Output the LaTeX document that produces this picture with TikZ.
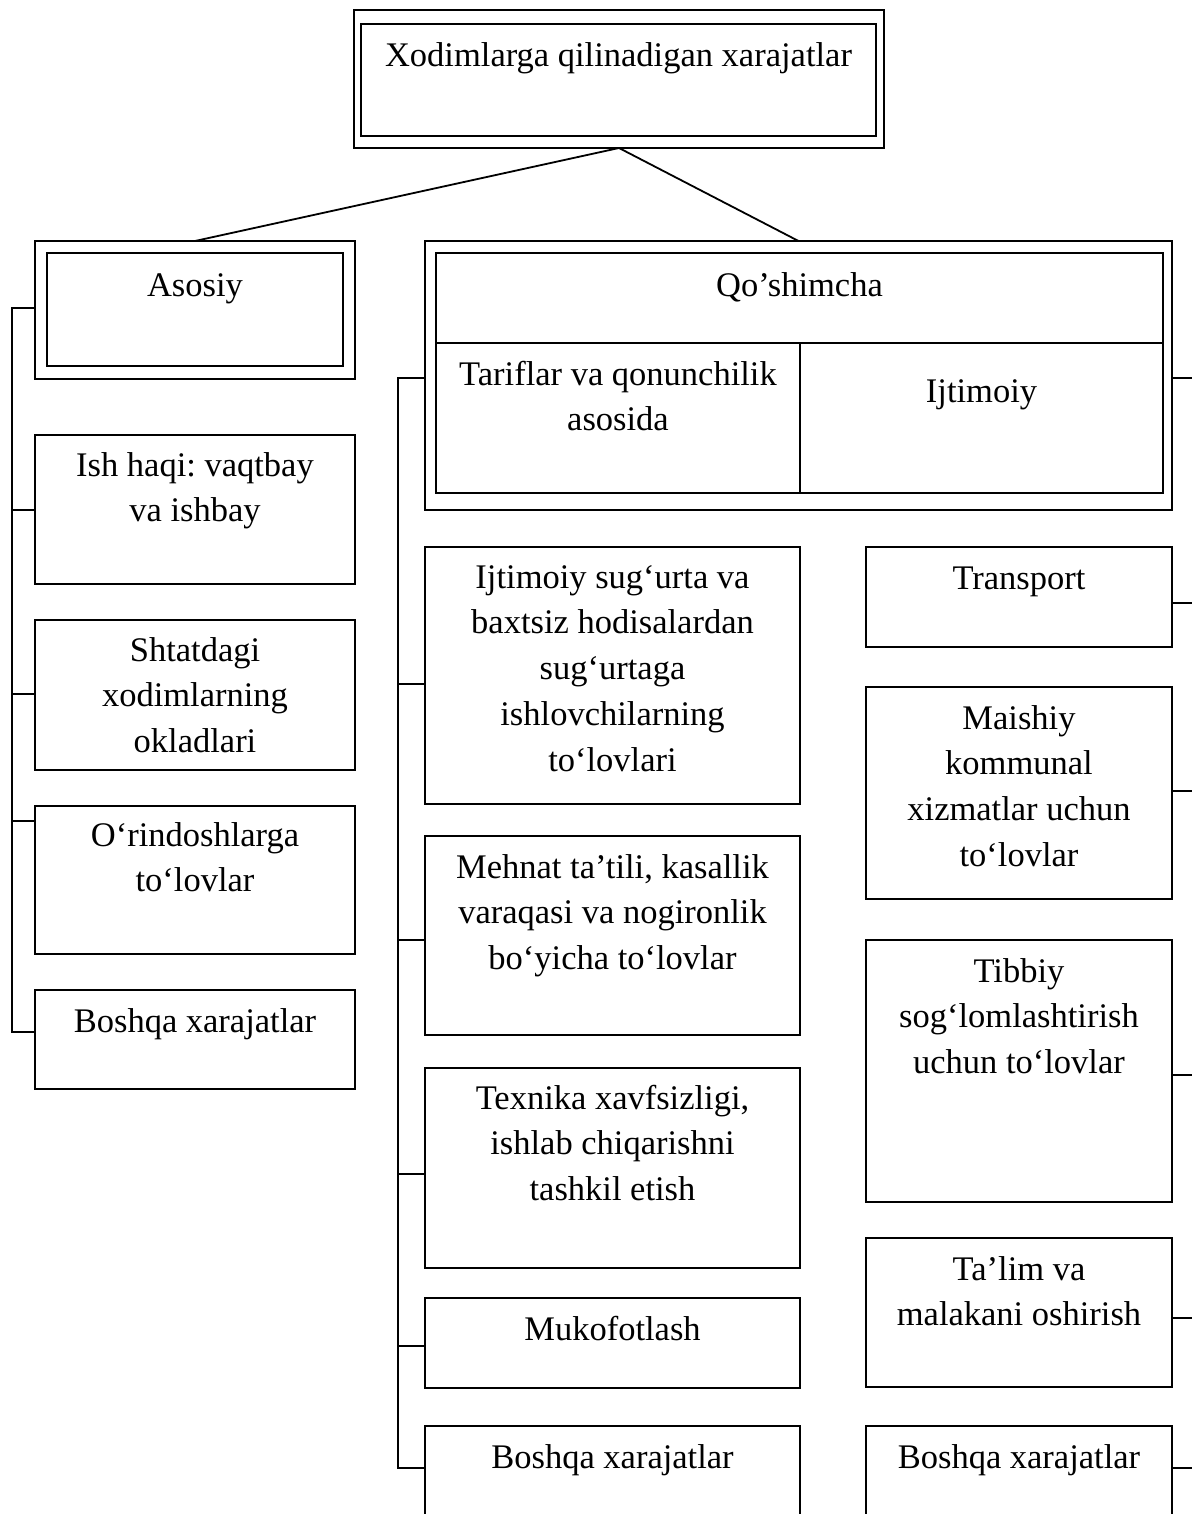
\documentclass[tikz,border=0pt]{standalone}
\usepackage{fontspec}
\setmainfont{Liberation Serif}
\frenchspacing
\newcommand\mainsize{\fontsize{17.25pt}{22.9pt}\selectfont}
% a box given by its corners (x1,y1)-(x2,y2) in drawing units, with the
% first text baseline placed #6 units below the top edge
\newcommand\cellbox[7]{%
  \node[cell, anchor=north west] (#1) at (#2,#3)
    {\parbox[c][\dimexpr 0.5pt*(#5-#3)\relax][t]{\dimexpr 0.5pt*(#4-#2)\relax}%
      {\centering\rule{0pt}{\dimexpr 0.5pt*#6\relax}#7\par}};}
\tikzset{
  cell/.style={draw, line width=0.9pt, inner sep=0pt, outer sep=0pt, font=\mainsize},
  link/.style={line width=0.9pt},
}
\begin{document}
\begin{tikzpicture}[x=0.5pt, y=-0.5pt]
\fill[white] (0,0) rectangle (1192,1514);
\useasboundingbox (0,0) rectangle (1192,1514);
\clip (0,0) rectangle (1192,1514);

% root
\cellbox{topO}{354}{10}{884}{148}{0}{}
\cellbox{topI}{361}{24}{876}{136}{43}{Xodimlarga qilinadigan xarajatlar}

% main groups
\cellbox{asosO}{35}{241}{355}{379}{0}{}
\cellbox{asosI}{47}{253}{343}{366}{43}{Asosiy}

\cellbox{qoshO}{425}{241}{1172}{510}{0}{}
\cellbox{qoshI}{436}{253}{1163}{343}{43}{Qo’shimcha}
\cellbox{tarif}{436}{343}{800}{493}{42}{Tariflar va qonunchilik\\asosida}
\cellbox{ijtim}{800}{343}{1163}{493}{59}{Ijtimoiy}

% basic expenses
\cellbox{ish}{35}{435}{355}{584}{41}{Ish haqi: vaqtbay\\va ishbay}
\cellbox{shtat}{35}{620}{355}{770}{41}{Shtatdagi\\xodimlarning\\okladlari}
\cellbox{orin}{35}{806}{355}{954}{40}{O‘rindoshlarga\\to‘lovlar}
\cellbox{boshA}{35}{990}{355}{1089}{42}{Boshqa xarajatlar}

% tariff and legal expenses
\cellbox{sugurta}{425}{547}{800}{804}{41}{Ijtimoiy sug‘urta va\\baxtsiz hodisalardan\\sug‘urtaga\\ishlovchilarning\\to‘lovlari}
\cellbox{mehnat}{425}{836}{800}{1035}{42}{Mehnat ta’tili, kasallik\\varaqasi va nogironlik\\bo‘yicha to‘lovlar}
\cellbox{texnika}{425}{1068}{800}{1268}{41}{Texnika xavfsizligi,\\ishlab chiqarishni\\tashkil etish}
\cellbox{mukof}{425}{1298}{800}{1388}{42}{Mukofotlash}
\cellbox{boshB}{425}{1426}{800}{1560}{42}{Boshqa xarajatlar}

% social expenses
\cellbox{transp}{866}{547}{1172}{647}{42}{Transport}
\cellbox{maish}{866}{687}{1172}{899}{42}{Maishiy\\kommunal\\xizmatlar uchun\\to‘lovlar}
\cellbox{tibb}{866}{940}{1172}{1202}{42}{Tibbiy\\sog‘lomlashtirish\\uchun to‘lovlar}
\cellbox{talim}{866}{1238}{1172}{1387}{42}{Ta’lim va\\malakani oshirish}
\cellbox{boshC}{866}{1426}{1172}{1560}{42}{Boshqa xarajatlar}

% root to groups
\draw[link] (topO.south) -- (asosO.north);
\draw[link] (topO.south) -- (qoshO.north);

% bus lines
\coordinate (busL) at (12,0);
\coordinate (busM) at (398,0);
\coordinate (edgeR) at (1196,0);

% left tree
\path (asosO.north west) ++(0,67) coordinate (cL0);
\path (ish.north west) ++(0,75) coordinate (cL1);
\path (shtat.north west) ++(0,74) coordinate (cL2);
\path (orin.north west) ++(0,15) coordinate (cL3);
\path (boshA.north west) ++(0,42) coordinate (cL4);
\draw[link] (cL0) -- (cL0 -| busL) -- (cL4 -| busL) -- (cL4);
\foreach \c in {cL1,cL2,cL3} \draw[link] (\c) -- (\c -| busL);

% middle tree
\path (qoshO.north west) ++(0,137) coordinate (cM0);
\path (sugurta.north west) ++(0,137) coordinate (cM1);
\path (mehnat.north west) ++(0,104) coordinate (cM2);
\path (texnika.north west) ++(0,106) coordinate (cM3);
\path (mukof.north west) ++(0,48) coordinate (cM4);
\path (boshB.north west) ++(0,42) coordinate (cM5);
\draw[link] (cM0) -- (cM0 -| busM) -- (cM5 -| busM) -- (cM5);
\foreach \c in {cM1,cM2,cM3,cM4} \draw[link] (\c) -- (\c -| busM);

% right tree
\path (qoshO.north east) ++(0,137) coordinate (cR0);
\path (transp.north east) ++(0,56) coordinate (cR1);
\path (maish.north east) ++(0,104) coordinate (cR2);
\path (tibb.north east) ++(0,135) coordinate (cR3);
\path (talim.north east) ++(0,80) coordinate (cR4);
\path (boshC.north east) ++(0,42) coordinate (cR5);
\foreach \c in {cR0,cR1,cR2,cR3,cR4,cR5} \draw[link] (\c) -- (\c -| edgeR);
\end{tikzpicture}
\end{document}
